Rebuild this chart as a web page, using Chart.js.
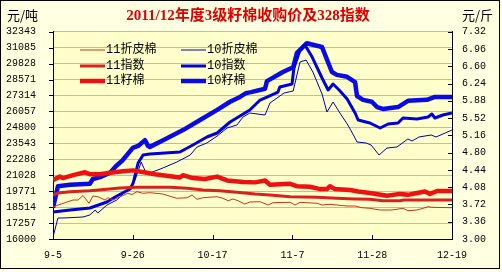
<!DOCTYPE html>
<html><head><meta charset="utf-8">
<script src="https://cdn.jsdelivr.net/npm/chart.js@4.4.1/dist/chart.umd.min.js"></script>
<style>html,body{margin:0;padding:0;background:#FFFFE1;}canvas{display:block}</style>
</head><body>
<canvas id="c" width="502" height="272"></canvas>
<script>
const titleText = '2011/12年度3级籽棉收购价及328指数';
const leftUnit = '元/吨';
const rightUnit = '元/斤';
const xLabels = ['9-5','9-26','10-17','11-7','11-28','12-19'];
const xTickDays = [0,21,42,63,84,105];
const leftTicks = [16000,17257,18514,19771,21028,22286,23543,24800,26057,27314,28571,29828,31085,32343];
const rightTicks = [3.00,3.36,3.72,4.08,4.44,4.80,5.16,5.52,5.88,6.24,6.60,6.96,7.32];

// [day since 9-5, value]
const lint11 = [[0,18523],[1.3,18680],[3.2,18862],[5.3,19074],[6.6,19074],[7.9,19429],[9.5,18814],[10.5,19390],[11.8,19334],[13.7,19074],[14.5,19256],[15.8,19074],[16.8,19208],[18.7,19469],[19.7,19603],[20.8,19508],[22.1,19729],[23.7,19603],[25.5,19650],[28.9,19547],[32.6,19208],[35.3,19256],[36.6,19469],[37.9,19130],[39.5,19256],[43.2,19334],[44.7,19208],[46.1,19019],[47.4,19153],[48.7,19019],[50.5,18759],[51.8,18917],[54.5,18940],[56.6,18680],[57.9,18862],[62.4,18893],[63.7,18680],[65,18893],[66.8,18862],[69.5,18814],[70.8,18680],[72.9,18735],[74.7,18680],[77.4,18601],[79.5,18601],[81.3,18467],[83.4,18420],[86.1,18286],[89.2,18286],[92.1,18420],[93.4,18231],[95.8,18286],[97.4,18420],[98.7,18546],[99.7,18499],[105,18467]];
const index11 = [[0,19469],[1.3,19626],[4.5,19729],[9.7,19807],[14.2,19918],[17.6,20020],[22.1,20076],[30.8,20076],[35.3,19997],[39.5,19863],[43.9,19807],[48.4,19681],[53.2,19547],[57.1,19469],[62.4,19334],[69.5,19287],[74.7,19208],[79.5,19153],[83.4,19130],[86.8,19019],[91.3,19019],[92.4,19074],[105,19074]];
const seed11 = [[0,4.23],[1.8,4.30],[2.6,4.27],[5.3,4.33],[8.4,4.39],[9.7,4.35],[12.4,4.35],[15,4.38],[18.4,4.41],[21.1,4.43],[24.7,4.38],[26.8,4.35],[33.4,4.28],[34.2,4.33],[36.8,4.27],[40,4.25],[43.2,4.30],[45.8,4.22],[50,4.19],[53.2,4.18],[55.8,4.22],[57.1,4.13],[62.4,4.15],[64.2,4.10],[67.6,4.09],[70.3,4.04],[72.1,4.04],[72.9,4.10],[74.2,4.04],[78.2,4.02],[80.3,3.99],[83.4,3.96],[87.9,3.90],[91.3,3.94],[93.4,3.92],[95.8,3.96],[97.9,3.99],[99.2,3.94],[101.1,4.00],[105,4.00]];
const lint10 = [[0,16158],[1.3,17655],[2.6,17655],[7.9,17734],[9.7,17892],[11.1,18286],[11.8,18050],[14.2,18680],[16.8,19074],[18.4,19547],[20.3,20020],[21.6,20651],[23.2,22070],[24.5,21203],[25.5,21203],[28.9,21597],[32.6,22070],[36.1,22622],[37.9,23252],[40.5,23568],[43.2,24119],[45.8,24750],[48.4,24987],[50,25617],[51.8,25933],[55.8,25775],[57.1,26721],[60.8,27509],[63.2,27667],[65,29953],[66.6,30111],[68.4,29165],[70.8,27430],[72.1,26011],[73.7,26800],[75.5,25933],[77.6,24987],[79.2,24119],[80,23647],[82.4,23568],[83.7,23410],[85.8,22622],[87.9,23174],[90.5,23252],[93.4,23883],[94.5,23725],[96.3,24041],[99.5,24198],[100.8,24041],[103.2,24356],[105,24592]];
const index10 = [[0,18128],[4.5,18286],[9.7,18444],[14.2,18917],[16.8,19390],[20.3,19942],[21.1,20414],[22.4,21991],[23.7,22622],[25.5,22700],[33.4,22858],[36.8,23410],[40.5,24041],[43.2,24356],[46.6,25223],[49.2,25696],[51.8,26169],[54.5,26957],[56.3,27194],[59.2,27588],[59.7,27982],[62.9,28219],[63.4,29480],[65,30899],[66.3,31293],[68.2,30347],[70.8,28692],[72.4,27746],[73.7,28219],[75.3,27746],[77.4,27036],[79.5,25933],[80.3,25381],[83.4,25144],[86.1,24750],[88.2,25065],[90.8,25144],[92.1,25538],[95.8,25460],[98.7,25617],[99.7,25854],[100.5,25538],[102.6,25775],[105,25933]];
const seed10 = [[0,3.65],[1.3,4.10],[4.5,4.13],[9.7,4.15],[10.5,4.25],[12.4,4.29],[15,4.38],[16.6,4.52],[18.2,4.63],[21,4.90],[22.4,4.94],[24.2,5.06],[25,4.94],[25.5,4.92],[29.5,5.08],[34.2,5.27],[38.7,5.48],[43.2,5.69],[46.6,5.86],[49.2,5.96],[50.8,6.04],[52.1,6.06],[55.8,6.13],[56.3,6.29],[60.5,6.48],[63.2,6.58],[64.2,6.88],[66.8,7.08],[70.8,7.00],[73.4,6.48],[74.7,6.42],[77.4,6.38],[79.5,6.27],[80,5.98],[81.6,5.90],[83.9,5.86],[85.3,5.75],[86.8,5.71],[90.8,5.75],[93.4,5.88],[98.4,5.90],[100.5,5.96],[105,5.96]];

const RED_T = '#CC3311', RED_M = '#D92020', RED_K = '#EE1111';
const BLUE_T = '#0000AA', BLUE_M = '#0000DD', BLUE_K = '#0A0AE6';
const toXY = a => a.map(p => ({x:p[0], y:p[1]}));

const series = [
  {name:'11折皮棉', data:lint11, color:RED_T, w:1, axis:'y', col:0, row:0},
  {name:'11指数', data:index11, color:RED_M, w:3, axis:'y', col:0, row:1},
  {name:'11籽棉', data:seed11, color:RED_K, w:4.5, axis:'y2', col:0, row:2},
  {name:'10折皮棉', data:lint10, color:BLUE_T, w:1, axis:'y', col:1, row:0},
  {name:'10指数', data:index10, color:BLUE_M, w:3, axis:'y', col:1, row:1},
  {name:'10籽棉', data:seed10, color:BLUE_K, w:4.5, axis:'y2', col:1, row:2}
];

const tickFont = {family:'"Liberation Mono", "DejaVu Sans Mono", monospace', size:10};

const decor = {
  id:'decor',
  beforeDraw(chart){
    const {ctx, chartArea:a} = chart;
    ctx.save();
    ctx.fillStyle = '#FFFFE1';
    ctx.fillRect(0,0,chart.width,chart.height);
    ctx.fillStyle = '#FFFFCC';
    ctx.fillRect(a.left, a.top, a.right-a.left, a.bottom-a.top);
    ctx.strokeStyle = '#000';
    ctx.lineWidth = 1;
    ctx.strokeRect(0.5,0.5,499,268);
    ctx.restore();
  },
  afterDraw(chart){
    const {ctx, chartArea:a, scales} = chart;
    ctx.save();
    ctx.strokeStyle = '#000';
    ctx.lineWidth = 1;
    ctx.beginPath();
    leftTicks.forEach(v => { const y = Math.round(scales.y.getPixelForValue(v))+0.5; ctx.moveTo(a.left-4,y); ctx.lineTo(a.left,y); });
    rightTicks.forEach(v => { const y = Math.round(scales.y2.getPixelForValue(v))+0.5; ctx.moveTo(a.right-4,y); ctx.lineTo(a.right,y); });
    xTickDays.forEach(v => { const x = Math.round(scales.x.getPixelForValue(v))+0.5; ctx.moveTo(x,a.bottom); ctx.lineTo(x,a.bottom-4); });
    ctx.stroke();
    // title
    ctx.fillStyle = '#DD0000';
    ctx.font = 'bold 15px "Liberation Serif", "Noto Sans CJK SC", serif';
    ctx.textAlign = 'center'; ctx.textBaseline = 'middle';
    ctx.fillText(titleText, 248, 16);
    // units
    ctx.fillStyle = '#000';
    ctx.font = '13px "Noto Sans CJK SC", sans-serif';
    ctx.textAlign = 'left';
    ctx.fillText(leftUnit, 7, 15);
    ctx.fillText(rightUnit, 462, 15);
    // legend
    const colX = [80, 181], rowY = [50, 66, 81];
    ctx.font = '12px "Liberation Mono", "Noto Sans CJK SC", monospace';
    series.forEach(s => {
      const x = colX[s.col], y = rowY[s.row];
      ctx.strokeStyle = s.color; ctx.lineWidth = s.w;
      ctx.beginPath(); ctx.moveTo(x, y); ctx.lineTo(x+25, y); ctx.stroke();
      ctx.fillStyle = '#000';
      ctx.fillText(s.name, x+26, y);
    });
    ctx.restore();
  }
};

new Chart(document.getElementById('c'), {
  type:'line',
  data:{datasets: series.map(s => ({label:s.name, data:toXY(s.data), borderColor:s.color, borderWidth:s.w, yAxisID:s.axis, pointRadius:0, tension:0, fill:false, borderJoinStyle:'round'}))},
  options:{
    responsive:false, animation:false, devicePixelRatio:1,
    layout:{padding:{top:31.7, left:0, right:0, bottom:0}},
    plugins:{legend:{display:false}, title:{display:false}, tooltip:{enabled:false}},
    scales:{
      x:{type:'linear', min:0, max:105,
        afterBuildTicks:s => { s.ticks = xTickDays.map(v => ({value:v})); },
        afterFit:s => { s.height = 33; },
        ticks:{callback:(v,i) => xLabels[i], font:tickFont, color:'#000', padding:10, autoSkip:false, maxRotation:0},
        grid:{display:false, drawTicks:false}, border:{display:true, color:'#000', width:1}},
      y:{position:'left', min:16000, max:32343,
        afterBuildTicks:s => { s.ticks = leftTicks.map(v => ({value:v})); },
        afterFit:s => { s.width = 53; },
        ticks:{callback:v => String(v), font:tickFont, color:'#000', padding:17},
        grid:{color:'#BBBBBB', borderDash:[4,3], drawTicks:false, tickBorderDash:[]}, border:{display:true, color:'#000', width:1}},
      y2:{position:'right', min:3, max:7.32,
        afterBuildTicks:s => { s.ticks = rightTicks.map(v => ({value:v})); },
        afterFit:s => { s.width = 50; },
        ticks:{callback:v => Number(v).toFixed(2), font:tickFont, color:'#000', padding:10},
        grid:{drawOnChartArea:false, drawTicks:false}, border:{display:true, color:'#000', width:1}}
    }
  },
  plugins:[decor]
});
</script>
</body></html>
